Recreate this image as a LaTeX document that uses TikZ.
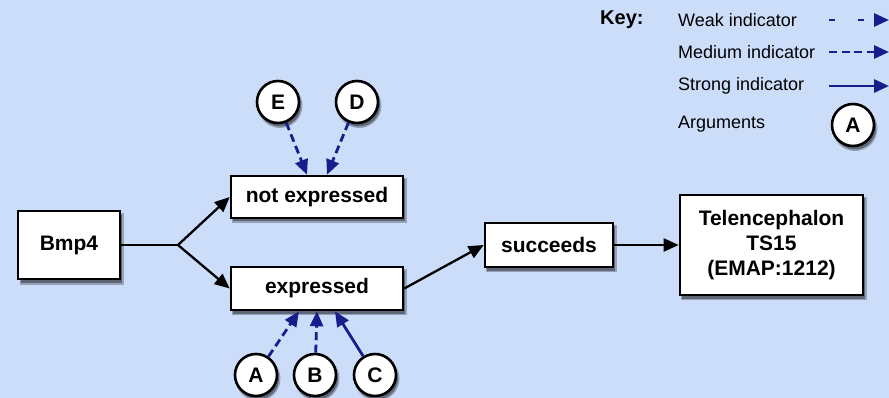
\documentclass[tikz,border=0pt]{standalone}
\usepackage{fontspec}
\setmainfont{Liberation Sans}
\usetikzlibrary{arrows.meta}
\definecolor{bg}{RGB}{204,221,250}
\definecolor{ind}{RGB}{22,30,140}
\definecolor{shsoft}{RGB}{150,162,185}
\definecolor{shhard}{RGB}{95,103,118}
\begin{document}
\begin{tikzpicture}[x=1pt,y=-1pt,
  shadowsoft/.style={draw=shsoft,fill=shsoft,line width=3pt},
  shadowhard/.style={fill=shhard},
  box/.style={draw=black,line width=2.6pt,fill=white,font=\fontsize{21}{25}\selectfont\bfseries,align=center,inner sep=0pt},
  arg/.style={circle,draw=black,line width=2.6pt,fill=white,minimum size=42pt,inner sep=0pt,font=\fontsize{21}{24}\selectfont\bfseries},
  conn/.style={line width=2.3pt,draw=black},
  conna/.style={conn,-{Triangle[length=15pt,width=13pt]}},
  ind/.style={line width=2.8pt,draw=ind,-{Triangle[length=15pt,width=13pt]}},
  weak/.style={ind,dash pattern=on 6pt off 23pt},
  medium/.style={ind,dash pattern=on 8pt off 4.5pt},
  strong/.style={ind},
  keylbl/.style={anchor=west,font=\fontsize{18}{22}\selectfont,inner sep=0pt}]
\fill[bg] (0,0) rectangle (889,398);
\useasboundingbox (0,0) rectangle (889,398);

% shadows (drawn first, beneath the boxes)
\draw[shadowsoft] (21,215) rectangle (122,283);
\fill[shadowhard] (21,215) rectangle (122,283);
\draw[shadowsoft] (233,179.5) rectangle (405,221.5);
\fill[shadowhard] (233,179.5) rectangle (405,221.5);
\draw[shadowsoft] (233,270.5) rectangle (405,313.5);
\fill[shadowhard] (233,270.5) rectangle (405,313.5);
\draw[shadowsoft] (487,226.5) rectangle (615,270.5);
\fill[shadowhard] (487,226.5) rectangle (615,270.5);
\draw[shadowsoft] (682,198.5) rectangle (865,298.5);
\fill[shadowhard] (682,198.5) rectangle (865,298.5);
\foreach \p in {(280,105.5),(359,105.5),(258,378.5),(317,378.5),(377,378.5),(855,128.5)}{
  \draw[shadowsoft] \p circle (21pt);
  \fill[shadowhard] \p circle (21pt);}

% boxes
\node[box,minimum width=102pt,minimum height=68pt] (bmp) at (69,245) {Bmp4};
\node[box,minimum width=172pt,minimum height=42pt] (ne) at (317,197) {not expressed};
\node[box,minimum width=172pt,minimum height=43pt] (ex) at (317,288.5) {expressed};
\node[box,minimum width=128pt,minimum height=44pt] (suc) at (549,245) {succeeds};
\node[box,minimum width=183pt,minimum height=100pt] (tel) at (771.5,245) {Telencephalon\\TS15\\(EMAP:1212)};

% arguments
\node[arg] (E) at (278,102) {E};
\node[arg] (D) at (357,102) {D};
\node[arg] (A) at (256,375) {A};
\node[arg] (B) at (315,375) {B};
\node[arg] (C) at (375,375) {C};

% black connectors
\coordinate (fork) at (178,245);
\draw[conn] (bmp.east) -- (fork);
\draw[conna] (fork) -- (ne.west);
\draw[conna] (fork) -- (ex.west);
\draw[conna] (ex.east) -- (suc.west);
\draw[conna] (suc.east) -- (tel.west);

% indicators
\draw[medium] (E) -- ([xshift=-10pt]ne.north);
\draw[medium] (D) -- ([xshift=10pt]ne.north);
\draw[medium] (A) -- ([xshift=-18pt]ex.south);
\draw[medium] (B) -- (ex.south);
\draw[strong] (C) -- ([xshift=18pt]ex.south);

% key
\node[anchor=west,inner sep=0pt,font=\fontsize{20}{24}\selectfont\bfseries] (key) at (600,20) {Key:};
\node[keylbl] (lw) at (678,20) {Weak indicator};
\node[keylbl] (lm) at (678,52) {Medium indicator};
\node[keylbl] (ls) at (678,86) {Strong indicator};
\node[keylbl] (la) at (678,124) {Arguments};
\coordinate (w1) at (829,20); \coordinate (w2) at (889,20);
\coordinate (m1) at (829,52); \coordinate (m2) at (889,52);
\coordinate (s1) at (829,86); \coordinate (s2) at (889,86);
\draw[weak] (w1) -- (w2);
\draw[medium] (m1) -- (m2);
\draw[strong] (s1) -- (s2);
\node[arg] (KA) at (853,125) {A};
\end{tikzpicture}
\end{document}
